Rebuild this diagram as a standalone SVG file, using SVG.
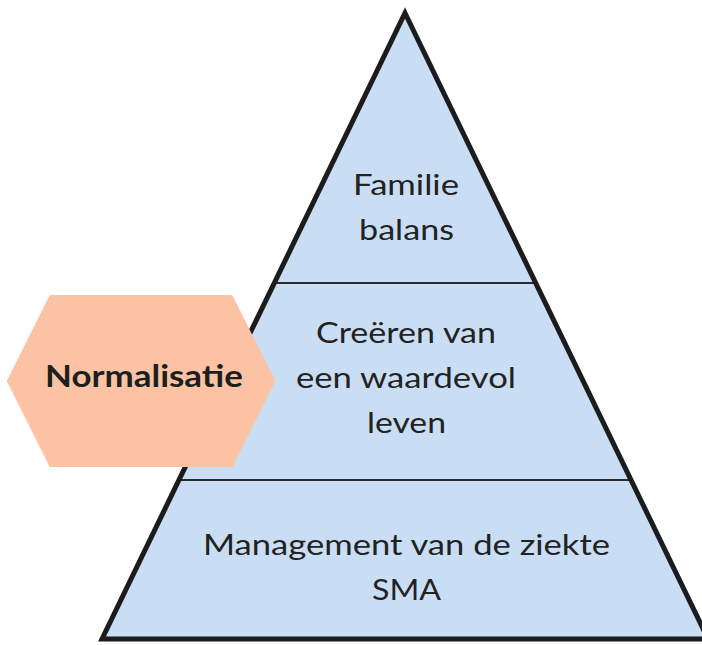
<svg xmlns="http://www.w3.org/2000/svg" width="702" height="645" viewBox="0 0 702 645">
<style>
.tier{fill:#C9DEF5;stroke:none}
.div{stroke:#2a2a2a;stroke-width:2;fill:none}
.outline{fill:none;stroke:#1c1c1c;stroke-width:5;stroke-linejoin:miter;stroke-miterlimit:10}
.lbl{font-family:Lato,"Open Sans","Liberation Sans",sans-serif;font-size:29px;fill:#222;text-anchor:middle}
.hex{fill:#FBC3A3;stroke:#FBC3A3;stroke-width:4;stroke-linejoin:round}
.hexlbl{font-family:Lato,"Open Sans","Liberation Sans",sans-serif;font-size:31px;font-weight:bold;fill:#1e1e1e;text-anchor:middle}
</style>
<rect width="702" height="645" fill="#ffffff"/>
<g id="pyramid">
<g id="tier-top">
<polygon class="tier" points="405,13 274.3,283 535.7,283"/>
<text class="lbl" x="406" y="195" textLength="106" lengthAdjust="spacingAndGlyphs">Familie</text>
<text class="lbl" x="406.5" y="240" textLength="95" lengthAdjust="spacingAndGlyphs">balans</text>
</g>
<g id="tier-middle">
<polygon class="tier" points="274.3,283 535.7,283 631,480 179,480"/>
<text class="lbl" x="406" y="343" textLength="180" lengthAdjust="spacingAndGlyphs">Creëren van</text>
<text class="lbl" x="406" y="388" textLength="220" lengthAdjust="spacingAndGlyphs">een waardevol</text>
<text class="lbl" x="406.5" y="433" textLength="79" lengthAdjust="spacingAndGlyphs">leven</text>
</g>
<g id="tier-bottom">
<polygon class="tier" points="179,480 631,480 708,639 102,639"/>
<text class="lbl" x="406.5" y="555" textLength="407" lengthAdjust="spacingAndGlyphs">Management van de ziekte</text>
<text class="lbl" x="406.5" y="600" textLength="69" lengthAdjust="spacingAndGlyphs">SMA</text>
</g>
<line class="div" x1="274.3" y1="283" x2="535.7" y2="283"/>
<line class="div" x1="179" y1="480" x2="631" y2="480"/>
<polygon class="outline" points="405,13 708,639 102,639"/>
</g>
<g id="connectors"/>
<g id="normalisatie">
<polygon class="hex" points="9,381 51,297 231,297 273,381 231,465 51,465"/>
<text class="hexlbl" x="144" y="387" textLength="198" lengthAdjust="spacingAndGlyphs">Normalisatie</text>
</g>
</svg>
